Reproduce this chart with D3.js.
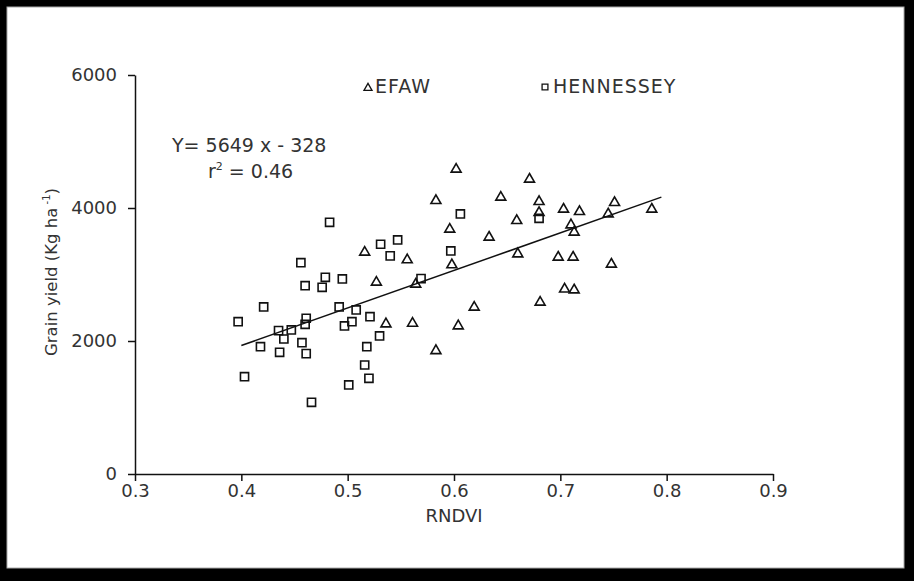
<!DOCTYPE html>
<html>
<head>
<meta charset="utf-8">
<script src="https://cdn.jsdelivr.net/npm/d3@7"></script>
<style>
html,body{margin:0;padding:0;background:#000;}
#chart{width:914px;height:581px;}
text{font-family:"DejaVu Sans",sans-serif;fill:#333;}
</style>
</head>
<body>
<div id="chart"></div>
<script>
// EFAW (triangles)
const efawX = [0.516,0.527,0.536,0.602,0.671,0.583,0.644,0.680,0.680,0.703,0.659,0.596,0.633,0.556,0.598,0.660,0.698,
  0.564,0.704,0.713,0.681,0.619,0.561,0.604,0.583,0.718,0.751,0.745,0.710,0.713,0.786,0.712,0.748];
const efawY = [3334,2883,2256,4582,4432,4111,4161,4096,3930,3981,3810,3680,3560,3219,3144,3309,3259,
  2853,2780,2767,2582,2507,2266,2226,1854,3945,4081,3910,3745,3635,3981,3259,3154];

// HENNESSEY (squares)
const hennX = [0.483,0.531,0.540,0.547,0.456,0.460,0.479,0.476,0.495,0.421,0.397,0.492,0.508,0.521,0.504,0.497,0.530,0.461,
  0.460,0.435,0.447,0.440,0.418,0.436,0.457,0.461,0.518,0.516,0.520,0.501,0.403,0.466,0.606,0.597,0.569,0.680];
const hennY = [3785,3455,3280,3519,3178,2832,2958,2808,2933,2512,2291,2512,2467,2366,2291,2226,2076,2342,
  2251,2156,2166,2030,1915,1830,1975,1810,1915,1639,1439,1339,1464,1078,3910,3354,2938,3845];

// regression Y = 5649x - 328
const slope = 5649, intercept = -328;
const fitX = [0.4, 0.795];

const xTicks = [0.3,0.4,0.5,0.6,0.7,0.8,0.9];
const yTicks = [0,2000,4000,6000];

const width = 914, height = 581;
const margin = {top:75,right:141,bottom:107,left:135};

const svg = d3.select("#chart").append("svg")
  .attr("width",width).attr("height",height);

// frame
svg.append("rect").attr("width",width).attr("height",height).attr("fill","#000");
svg.append("rect").attr("x",7).attr("y",7).attr("width",897).attr("height",561)
  .attr("fill","#fff").attr("stroke","#aaa").attr("stroke-width",1);

const x = d3.scaleLinear().domain([0.3,0.9]).range([margin.left,width-margin.right]);
const y = d3.scaleLinear().domain([0,6000]).range([height-margin.bottom,margin.top]);

const xAxis = svg.append("g")
  .attr("transform",`translate(0,${height-margin.bottom})`)
  .call(d3.axisBottom(x).tickValues(xTicks).tickFormat(d3.format(".1f")).tickSize(7).tickPadding(3).tickSizeOuter(0));

const yAxis = svg.append("g")
  .attr("transform",`translate(${margin.left},0)`)
  .call(d3.axisLeft(y).tickValues(yTicks).tickFormat(d3.format("d")).tickSize(7).tickPadding(11).tickSizeOuter(0));

[xAxis,yAxis].forEach(g=>{
  g.selectAll("path,line").attr("stroke","#111").attr("stroke-width",1.5);
  g.selectAll("text").attr("font-size","18px").attr("font-family","DejaVu Sans").attr("fill","#333");
});

// regression line
const line = d3.line().x(d=>x(d)).y(d=>y(slope*d+intercept));
svg.append("path").datum(fitX)
  .attr("fill","none").attr("stroke","#111").attr("stroke-width",1.5)
  .attr("d",line);

const tri = d3.symbol(d3.symbolTriangle,43);
const sq = d3.symbol(d3.symbolSquare,66);

svg.append("g").selectAll("path")
  .data(efawX.map((v,i)=>[v,efawY[i]]))
  .join("path")
  .attr("d",tri)
  .attr("transform",d=>`translate(${x(d[0])},${y(d[1])})`)
  .attr("fill","none").attr("stroke","#111").attr("stroke-width",1.6);

svg.append("g").selectAll("path")
  .data(hennX.map((v,i)=>[v,hennY[i]]))
  .join("path")
  .attr("d",sq)
  .attr("transform",d=>`translate(${x(d[0])},${y(d[1])})`)
  .attr("fill","none").attr("stroke","#111").attr("stroke-width",1.6);

// legend
svg.append("path").attr("d",d3.symbol(d3.symbolTriangle,28))
  .attr("transform","translate(368,88)")
  .attr("fill","none").attr("stroke","#111").attr("stroke-width",1.3);
svg.append("text").attr("x",375).attr("y",93).attr("font-size","19px")
  .attr("letter-spacing","1px").text("EFAW");
svg.append("path").attr("d",d3.symbol(d3.symbolSquare,34))
  .attr("transform","translate(545,87)")
  .attr("fill","none").attr("stroke","#111").attr("stroke-width",1.3);
svg.append("text").attr("x",553).attr("y",93).attr("font-size","19px")
  .attr("letter-spacing","1px").text("HENNESSEY");

// equation
svg.append("text").attr("x",172).attr("y",152).attr("font-size","19px")
  .text("Y= 5649 x - 328");
const r2 = svg.append("text").attr("x",208).attr("y",178).attr("font-size","19px");
r2.append("tspan").text("r");
r2.append("tspan").attr("font-size","11px").attr("dy","-8").text("2");
r2.append("tspan").attr("dy","8").text(" = 0.46");

// axis labels
svg.append("text").attr("x",454).attr("y",522).attr("text-anchor","middle")
  .attr("font-size","18px").text("RNDVI");

const yl = svg.append("text").attr("transform","rotate(-90)")
  .attr("x",-272).attr("y",57).attr("text-anchor","middle").attr("font-size","16.5px");
yl.append("tspan").text("Grain yield (Kg ha");
yl.append("tspan").attr("font-size","10px").attr("dy","-7").text(" -1");
yl.append("tspan").attr("dy","7").text(")");
</script>
</body>
</html>
